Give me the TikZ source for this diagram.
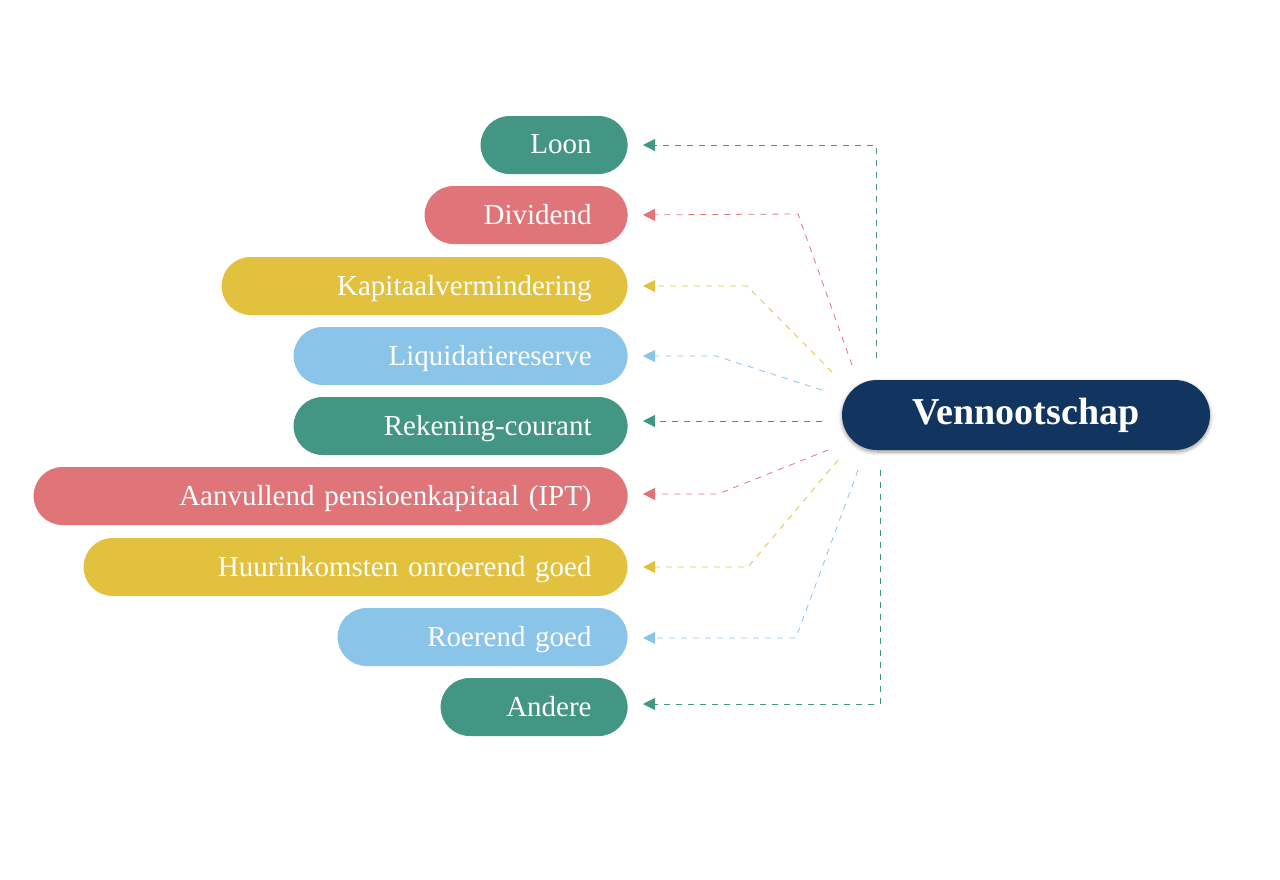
\documentclass[tikz,border=0pt]{standalone}
\usepackage{fontspec}
\setmainfont{Liberation Serif}
\usetikzlibrary{arrows.meta,shadows.blur}
\definecolor{teal}{HTML}{439683}
\definecolor{rose}{HTML}{DF7479}
\definecolor{mustard}{HTML}{E2C13F}
\definecolor{sky}{HTML}{8AC5E9}
\definecolor{navy}{HTML}{12355F}
\tikzset{
  pill/.style={anchor=east, rounded corners=14.5pt, minimum height=29pt,
    inner sep=0pt, text=white, font=\fontsize{14.5}{16}\selectfont,
    align=right, text width=#1, text depth=1pt},
  link/.style={dashed, thin, -{Triangle[length=6pt,width=6pt]}, shorten >=7.5pt}
}
\begin{document}
\begin{tikzpicture}[x=0.5pt,y=-0.5pt]
\useasboundingbox (0,0) rectangle (1280,879);
% pills
\node[pill=73.5pt, fill=teal] (loon) at (628,145) {Loon\hspace*{18pt}};
\node[pill=101.5pt, fill=rose] (dividend) at (628,215) {Dividend\hspace*{18pt}};
\node[pill=203pt, fill=mustard] (kapitaal) at (628,286) {Kapitaalvermindering\hspace*{18pt}};
\node[pill=167pt, fill=sky] (liquidatie) at (628,356) {Liquidatiereserve\hspace*{18pt}};
\node[pill=167pt, fill=teal] (rekening) at (628,426) {Rekening-courant\hspace*{18pt}};
\node[pill=297pt, fill=rose] (ipt) at (628,496) {Aanvullend pensioenkapitaal (IPT)\hspace*{18pt}};
\node[pill=272pt, fill=mustard] (huur) at (628,567) {Huurinkomsten onroerend goed\hspace*{18pt}};
\node[pill=145pt, fill=sky] (roerend) at (628,637) {Roerend goed\hspace*{18pt}};
\node[pill=93.5pt, fill=teal] (andere) at (628,707) {Andere\hspace*{18pt}};
% centre
\node[fill=navy, rounded corners=17.5pt, minimum width=184pt, minimum height=35pt,
  text=white, font=\bfseries\fontsize{19}{22}\selectfont,
  blur shadow={shadow blur steps=8, shadow xshift=0pt, shadow yshift=-1pt}]
  (venn) at (1026,415) {Vennootschap};
% start points
\coordinate (s1) at (876,358);
\coordinate (s2) at (852,365);
\coordinate (s3) at (832,372);
\coordinate (s4) at (822,390);
\coordinate (s5) at (822,421);
\coordinate (s6) at (828,450);
\coordinate (s7) at (838,460);
\coordinate (s8) at (858,470);
\coordinate (s9) at (880,470);
% connectors
\draw[link, teal] (s1) |- (loon.east);
\draw[link, rose] (s2) -- (798,214) -- (loon.east |- dividend.east);
\draw[link, mustard] (s3) -- (747,286) -- (kapitaal.east);
\draw[link, sky] (s4) -- (716,356) -- (liquidatie.east);
\draw[link, teal] (s5) -- (rekening.east |- s5);
\draw[link, rose] (s6) -- (718,494) -- (ipt.east |- 0,494);
\draw[link, mustard] (s7) -- (748,567) -- (huur.east);
\draw[link, sky] (s8) -- (796,638) -- (roerend.east |- 0,638);
\draw[link, teal] (s9) |- (andere.east |- 0,704);
\end{tikzpicture}
\end{document}
